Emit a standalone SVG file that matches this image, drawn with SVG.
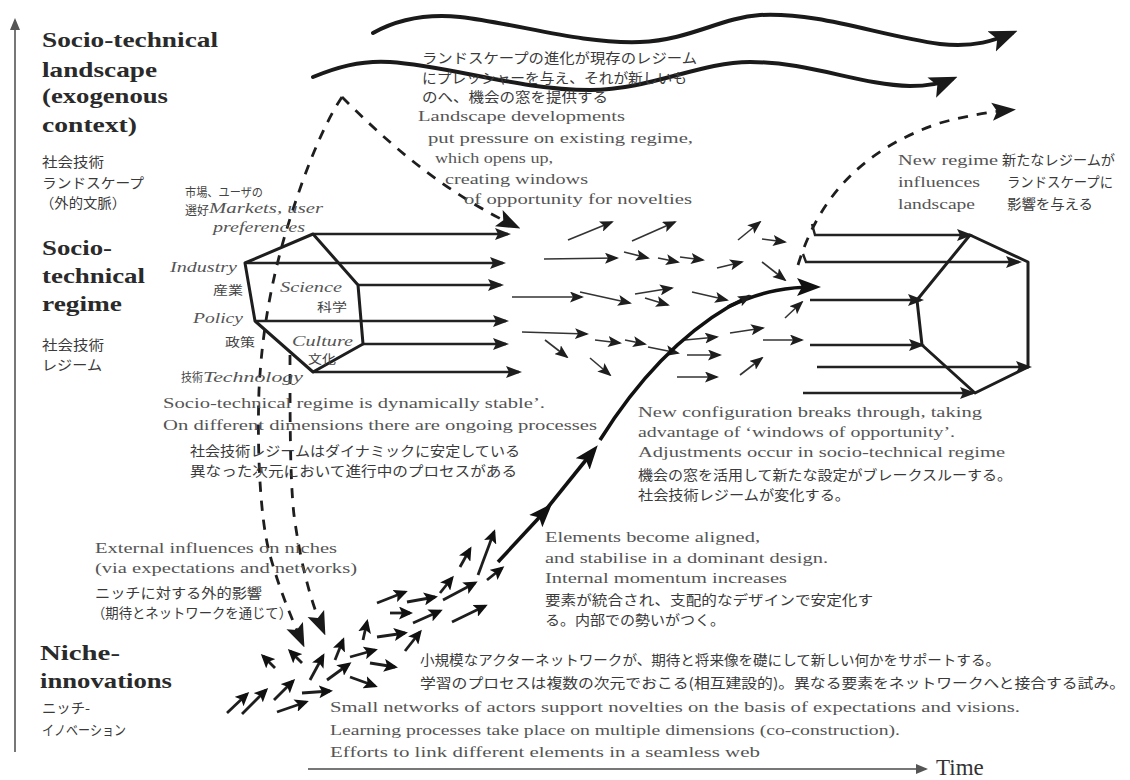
<svg xmlns="http://www.w3.org/2000/svg" width="1130" height="780" viewBox="0 0 1130 780">
<defs>
<style>
.t{font-family:"Liberation Serif","Times New Roman",serif;font-weight:bold;font-size:21px;fill:#2a2a2a}
.e{font-family:"Liberation Serif","Times New Roman",serif;font-size:15px;fill:#555}
.i{font-family:"Liberation Serif","Times New Roman",serif;font-style:italic;font-size:15px;fill:#555}
.j{font-family:"Noto Sans CJK JP","Noto Sans",sans-serif;font-size:14px;fill:#3a3a3a}
.js{font-family:"Noto Sans CJK JP","Noto Sans",sans-serif;font-size:12px;fill:#444}
.wv{fill:none;stroke:#1a1a1a;stroke-width:4;stroke-linecap:round}
.ds{fill:none;stroke:#1e1e1e;stroke-width:2.8;stroke-dasharray:10 9}
.ln{fill:none;stroke:#222;stroke-width:2.4}
.th{fill:none;stroke:#333;stroke-width:1.6}
.nk{fill:none;stroke:#1e1e1e;stroke-width:2.8}
.mn{fill:none;stroke:#111;stroke-width:3.6}
.hx{fill:none;stroke:#1e1e1e;stroke-width:3;stroke-linejoin:round}
.ax{fill:none;stroke:#777;stroke-width:2}
</style>
<marker id="big" markerUnits="userSpaceOnUse" markerWidth="28" markerHeight="24" viewBox="0 0 28 24" refX="22" refY="12" orient="auto"><path d="M0,1 L28,12 L0,23 L6,12 z" fill="#1a1a1a"/></marker>
<marker id="bigd" markerUnits="userSpaceOnUse" markerWidth="24" markerHeight="20" viewBox="0 0 24 20" refX="18" refY="10" orient="auto"><path d="M0,1 L24,10 L0,19 L5,10 z" fill="#1a1a1a"/></marker>
<marker id="med" markerUnits="userSpaceOnUse" markerWidth="16" markerHeight="12" viewBox="0 0 16 12" refX="13" refY="6" orient="auto"><path d="M0,0 L16,6 L0,12 L3,6 z" fill="#1e1e1e"/></marker>
<marker id="sm" markerUnits="userSpaceOnUse" markerWidth="14" markerHeight="11" viewBox="0 0 14 11" refX="12" refY="5.5" orient="auto"><path d="M0,0 L14,5.5 L0,11 L3,5.5 z" fill="#1e1e1e"/></marker>
<marker id="nk" markerUnits="userSpaceOnUse" markerWidth="14" markerHeight="13" viewBox="0 0 14 13" refX="11" refY="6.5" orient="auto"><path d="M0,0 L14,6.5 L0,13 L3,6.5 z" fill="#111"/></marker>
<marker id="mn" markerUnits="userSpaceOnUse" markerWidth="24" markerHeight="20" viewBox="0 0 24 20" refX="18" refY="10" orient="auto"><path d="M0,1 L24,10 L0,19 L5,10 z" fill="#111"/></marker>
<marker id="axh" markerUnits="userSpaceOnUse" markerWidth="12" markerHeight="10" viewBox="0 0 12 10" refX="10" refY="5" orient="auto"><path d="M0,0 L12,5 L0,10 z" fill="#555"/></marker>
</defs>
<rect width="1130" height="780" fill="#fff"/>

<g id="axis-vertical"><path class="ax" d="M15 752 L15 20" marker-end="url(#axh)"/></g>
<g id="axis-time">
<path class="ax" d="M308 769 L926 769" marker-end="url(#axh)"/>
<text x="936" y="775" style="font-family:'Liberation Serif',serif;font-size:23px;fill:#333">Time</text>
</g>

<g id="level-landscape">
<text class="t" x="42" y="47" textLength="176" lengthAdjust="spacingAndGlyphs">Socio-technical</text>
<text class="t" x="42" y="77" textLength="115" lengthAdjust="spacingAndGlyphs">landscape</text>
<text class="t" x="42" y="103" textLength="126" lengthAdjust="spacingAndGlyphs">(exogenous</text>
<text class="t" x="42" y="132" textLength="95" lengthAdjust="spacingAndGlyphs">context)</text>
<text class="j" x="42" y="167" textLength="62" lengthAdjust="spacingAndGlyphs">社会技術</text>
<text class="j" x="42" y="188" textLength="102" lengthAdjust="spacingAndGlyphs">ランドスケープ</text>
<text class="j" x="40" y="208" textLength="86" lengthAdjust="spacingAndGlyphs">（外的文脈）</text>
</g>
<g id="level-regime">
<text class="t" x="42" y="255" textLength="70" lengthAdjust="spacingAndGlyphs">Socio-</text>
<text class="t" x="42" y="283" textLength="103" lengthAdjust="spacingAndGlyphs">technical</text>
<text class="t" x="42" y="311" textLength="80" lengthAdjust="spacingAndGlyphs">regime</text>
<text class="j" x="42" y="350" textLength="62" lengthAdjust="spacingAndGlyphs">社会技術</text>
<text class="j" x="42" y="370" textLength="60" lengthAdjust="spacingAndGlyphs">レジーム</text>
</g>
<g id="level-niche">
<text class="t" x="40" y="660" textLength="80" lengthAdjust="spacingAndGlyphs">Niche-</text>
<text class="t" x="40" y="688" textLength="132" lengthAdjust="spacingAndGlyphs">innovations</text>
<text class="j" x="42" y="713" textLength="48" lengthAdjust="spacingAndGlyphs">ニッチ-</text>
<text class="j" x="42" y="735" textLength="84" lengthAdjust="spacingAndGlyphs">イノベーション</text>
</g>

<g id="connectors">
<!-- landscape waves -->
<path class="wv" d="M373 33 C400 18 430 14 460 17 C520 24 580 44 640 42 C690 40 720 18 760 15 C820 12 880 36 940 44 C975 48 995 40 1012 33" marker-end="url(#big)"/>
<path class="wv" d="M313 77 C335 68 360 60 390 62 C450 66 520 90 590 90 C650 90 700 62 750 62 C810 62 860 85 910 86 C930 86 945 82 952 79" marker-end="url(#big)"/>
<!-- landscape influences (dashed) -->
<path class="ds" d="M342 97 C385 140 440 190 515 226" marker-end="url(#bigd)"/>
<path class="ds" d="M342 97 C320 130 300 185 285 235 C272 280 262 330 259 390 C257 450 260 520 270 555 C278 585 290 615 302 642" marker-end="url(#bigd)"/>
<path class="ds" d="M290 355 C290 420 290 480 294 515 C300 560 310 600 323 630" marker-end="url(#bigd)"/>
<path class="ds" d="M798 265 C818 200 860 150 940 123 C965 116 990 112 1010 110" marker-end="url(#bigd)"/>

<!-- old regime lines -->
<path class="ln" d="M313 234 L508 234" marker-end="url(#med)"/>
<path class="ln" d="M245 263 L503 263" marker-end="url(#med)"/>
<path class="ln" d="M358 285 L501 285" marker-end="url(#med)"/>
<path class="ln" d="M255 321 L506 321" marker-end="url(#med)"/>
<path class="ln" d="M363 344 L506 344" marker-end="url(#med)"/>
<path class="ln" d="M313 372 L519 372" marker-end="url(#med)"/>

<!-- scattered regime arrows -->
<path class="th" d="M568 240 L612 222" marker-end="url(#sm)"/>
<path class="th" d="M632 241 L675 222" marker-end="url(#sm)"/>
<path class="th" d="M738 240 L760 222" marker-end="url(#sm)"/>
<path class="th" d="M762 239 L785 242" marker-end="url(#sm)"/>
<path class="th" d="M544 259 L617 258" marker-end="url(#sm)"/>
<path class="th" d="M624 252 L648 258" marker-end="url(#sm)"/>
<path class="th" d="M658 258 L678 262" marker-end="url(#sm)"/>
<path class="th" d="M680 257 L703 260" marker-end="url(#sm)"/>
<path class="th" d="M717 268 L742 262" marker-end="url(#sm)"/>
<path class="th" d="M762 262 L785 280" marker-end="url(#sm)"/>
<path class="th" d="M512 297 L582 297" marker-end="url(#sm)"/>
<path class="th" d="M580 292 L630 303" marker-end="url(#sm)"/>
<path class="th" d="M635 294 L672 288" marker-end="url(#sm)"/>
<path class="th" d="M645 298 L668 305" marker-end="url(#sm)"/>
<path class="th" d="M692 292 L727 300" marker-end="url(#sm)"/>
<path class="th" d="M785 318 L802 302" marker-end="url(#sm)"/>
<path class="th" d="M522 332 L587 334" marker-end="url(#sm)"/>
<path class="th" d="M545 340 L567 357" marker-end="url(#sm)"/>
<path class="th" d="M595 340 L620 343" marker-end="url(#sm)"/>
<path class="th" d="M625 340 L645 344" marker-end="url(#sm)"/>
<path class="th" d="M648 347 L678 353" marker-end="url(#sm)"/>
<path class="th" d="M685 340 L717 337" marker-end="url(#sm)"/>
<path class="th" d="M687 355 L720 355" marker-end="url(#sm)"/>
<path class="th" d="M677 377 L717 377" marker-end="url(#sm)"/>
<path class="th" d="M730 333 L763 328" marker-end="url(#sm)"/>
<path class="th" d="M740 375 L762 358" marker-end="url(#sm)"/>
<path class="th" d="M763 340 L802 340" marker-end="url(#sm)"/>
<path class="th" d="M590 358 L610 375" marker-end="url(#sm)"/>

<!-- new regime lines -->
<path class="ln" d="M812 224 L815 235 L970 235" marker-end="url(#med)"/>
<path class="ln" d="M803 254 L806 262 L1019 262" marker-end="url(#med)"/>
<path class="ln" d="M810 300 L921 300" marker-end="url(#med)"/>
<path class="ln" d="M810 345 L922 345" marker-end="url(#med)"/>
<path class="ln" d="M817 367 L1029 367" marker-end="url(#med)"/>
<path class="ln" d="M803 393 L973 393" marker-end="url(#med)"/>

<!-- niche arrows -->
<path class="nk" d="M227 713 L247 694" marker-end="url(#nk)"/>
<path class="nk" d="M242 714 L266 690" marker-end="url(#nk)"/>
<path class="nk" d="M274 700 L293 681" marker-end="url(#nk)"/>
<path class="nk" d="M277 712 L306 702" marker-end="url(#nk)"/>
<path class="nk" d="M302 693 L330 691" marker-end="url(#nk)"/>
<path class="nk" d="M275 668 L263 656" marker-end="url(#nk)"/>
<path class="nk" d="M302 663 L290 651" marker-end="url(#nk)"/>
<path class="nk" d="M310 680 L323 656" marker-end="url(#nk)"/>
<path class="nk" d="M327 680 L349 664" marker-end="url(#nk)"/>
<path class="nk" d="M335 660 L343 640" marker-end="url(#nk)"/>
<path class="nk" d="M350 657 L375 650" marker-end="url(#nk)"/>
<path class="nk" d="M350 677 L375 686" marker-end="url(#nk)"/>
<path class="nk" d="M363 640 L367 622" marker-end="url(#nk)"/>
<path class="nk" d="M370 663 L395 667" marker-end="url(#nk)"/>
<path class="nk" d="M377 637 L405 633" marker-end="url(#nk)"/>
<path class="nk" d="M405 651 L420 632" marker-end="url(#nk)"/>
<path class="nk" d="M377 603 L405 592" marker-end="url(#nk)"/>
<path class="nk" d="M390 613 L410 613" marker-end="url(#nk)"/>
<path class="nk" d="M407 602 L435 597" marker-end="url(#nk)"/>
<path class="nk" d="M413 623 L440 611" marker-end="url(#nk)"/>
<path class="nk" d="M440 593 L452 578" marker-end="url(#nk)"/>
<path class="nk" d="M443 600 L475 583" marker-end="url(#nk)"/>
<path class="nk" d="M452 622 L485 606" marker-end="url(#nk)"/>
<path class="nk" d="M460 567 L470 549" marker-end="url(#nk)"/>
<path class="nk" d="M478 575 L494 532" marker-end="url(#nk)"/>
<path class="nk" d="M487 580 L502 568" marker-end="url(#nk)"/>

<!-- main breakthrough trajectory -->
<path class="mn" d="M498 562 L548 508" marker-end="url(#mn)"/>
<path class="mn" d="M540 517 L594 450" marker-end="url(#mn)"/>
<path class="mn" d="M600 440 C630 392 672 340 730 306 C765 290 790 287 815 287" marker-end="url(#mn)"/>
<path class="mn" d="M728 307 L750 296" marker-end="url(#sm)"/>
</g>

<g id="old-regime">
<polygon class="hx" points="313,234 358,285 363,344 313,372 255,321 245,263"/>
<text class="i" x="170" y="272" textLength="67" lengthAdjust="spacingAndGlyphs">Industry</text>
<text class="js" x="213" y="295" textLength="30" lengthAdjust="spacingAndGlyphs">産業</text>
<text class="i" x="280" y="292" textLength="62" lengthAdjust="spacingAndGlyphs">Science</text>
<text class="js" x="317" y="312" textLength="30" lengthAdjust="spacingAndGlyphs">科学</text>
<text class="i" x="193" y="323" textLength="50" lengthAdjust="spacingAndGlyphs">Policy</text>
<text class="js" x="225" y="347" textLength="30" lengthAdjust="spacingAndGlyphs">政策</text>
<text class="i" x="292" y="346" textLength="61" lengthAdjust="spacingAndGlyphs">Culture</text>
<text class="js" x="308" y="364" textLength="28" lengthAdjust="spacingAndGlyphs">文化</text>
<text class="js" x="181" y="382" textLength="22" lengthAdjust="spacingAndGlyphs">技術</text>
<text class="i" x="203" y="382" textLength="100" lengthAdjust="spacingAndGlyphs">Technology</text>
<text class="js" x="185" y="197" textLength="78" lengthAdjust="spacingAndGlyphs">市場、ユーザの</text>
<text class="js" x="185" y="215" textLength="24" lengthAdjust="spacingAndGlyphs">選好</text>
<text class="i" x="209" y="213" textLength="114" lengthAdjust="spacingAndGlyphs">Markets, user</text>
<text class="i" x="213" y="232" textLength="92" lengthAdjust="spacingAndGlyphs">preferences</text>
</g>

<g id="new-regime">
<polygon class="hx" points="970,235 1028,262 1028,367 975,393 922,345 917,300"/>
</g>

<g id="landscape-text">
<text class="j" x="422" y="63" textLength="275" lengthAdjust="spacingAndGlyphs">ランドスケープの進化が現存のレジーム</text>
<text class="j" x="422" y="83" textLength="265" lengthAdjust="spacingAndGlyphs">にプレッシャーを与え、それが新しいも</text>
<text class="j" x="422" y="102" textLength="186" lengthAdjust="spacingAndGlyphs">のへ、機会の窓を提供する</text>
<text class="e" x="418" y="121" textLength="207" lengthAdjust="spacingAndGlyphs">Landscape developments</text>
<text class="e" x="428" y="143" textLength="265" lengthAdjust="spacingAndGlyphs">put pressure on existing regime,</text>
<text class="e" x="435" y="163" textLength="118" lengthAdjust="spacingAndGlyphs">which opens up,</text>
<text class="e" x="445" y="184" textLength="143" lengthAdjust="spacingAndGlyphs">creating windows</text>
<text class="e" x="464" y="204" textLength="228" lengthAdjust="spacingAndGlyphs">of opportunity for novelties</text>
</g>

<g id="new-regime-text">
<text class="e" x="898" y="165" textLength="100" lengthAdjust="spacingAndGlyphs">New regime</text>
<text class="e" x="898" y="187" textLength="82" lengthAdjust="spacingAndGlyphs">influences</text>
<text class="e" x="898" y="209" textLength="77" lengthAdjust="spacingAndGlyphs">landscape</text>
<text class="j" x="1002" y="165" textLength="113" lengthAdjust="spacingAndGlyphs">新たなレジームが</text>
<text class="j" x="1007" y="187" textLength="106" lengthAdjust="spacingAndGlyphs">ランドスケープに</text>
<text class="j" x="1007" y="209" textLength="86" lengthAdjust="spacingAndGlyphs">影響を与える</text>
</g>

<g id="regime-text">
<text class="e" x="163" y="408" textLength="382" lengthAdjust="spacingAndGlyphs">Socio-technical regime is dynamically stable’.</text>
<text class="e" x="163" y="430" textLength="434" lengthAdjust="spacingAndGlyphs">On different dimensions there are ongoing processes</text>
<text class="j" x="190" y="456" textLength="330" lengthAdjust="spacingAndGlyphs">社会技術レジームはダイナミックに安定している</text>
<text class="j" x="190" y="476" textLength="327" lengthAdjust="spacingAndGlyphs">異なった次元において進行中のプロセスがある</text>
</g>

<g id="external-text">
<text class="e" x="95" y="553" textLength="242" lengthAdjust="spacingAndGlyphs">External influences on niches</text>
<text class="e" x="95" y="573" textLength="262" lengthAdjust="spacingAndGlyphs">(via expectations and networks)</text>
<text class="j" x="95" y="598" textLength="167" lengthAdjust="spacingAndGlyphs">ニッチに対する外的影響</text>
<text class="j" x="92" y="618" textLength="200" lengthAdjust="spacingAndGlyphs">（期待とネットワークを通じて）</text>
</g>

<g id="breakthrough-text">
<text class="e" x="638" y="417" textLength="344" lengthAdjust="spacingAndGlyphs">New configuration breaks through, taking</text>
<text class="e" x="638" y="437" textLength="317" lengthAdjust="spacingAndGlyphs">advantage of ‘windows of opportunity’.</text>
<text class="e" x="638" y="457" textLength="367" lengthAdjust="spacingAndGlyphs">Adjustments occur in socio-technical regime</text>
<text class="j" x="638" y="480" textLength="374" lengthAdjust="spacingAndGlyphs">機会の窓を活用して新たな設定がブレークスルーする。</text>
<text class="j" x="638" y="500" textLength="212" lengthAdjust="spacingAndGlyphs">社会技術レジームが変化する。</text>
</g>

<g id="elements-text">
<text class="e" x="545" y="542" textLength="215" lengthAdjust="spacingAndGlyphs">Elements become aligned,</text>
<text class="e" x="545" y="563" textLength="283" lengthAdjust="spacingAndGlyphs">and stabilise in a dominant design.</text>
<text class="e" x="545" y="583" textLength="242" lengthAdjust="spacingAndGlyphs">Internal momentum increases</text>
<text class="j" x="545" y="605" textLength="328" lengthAdjust="spacingAndGlyphs">要素が統合され、支配的なデザインで安定化す</text>
<text class="j" x="545" y="625" textLength="180" lengthAdjust="spacingAndGlyphs">る。内部での勢いがつく。</text>
</g>

<g id="niche-text">
<text class="j" x="420" y="665" textLength="580" lengthAdjust="spacingAndGlyphs">小規模なアクターネットワークが、期待と将来像を礎にして新しい何かをサポートする。</text>
<text class="j" x="420" y="688" textLength="705" lengthAdjust="spacingAndGlyphs">学習のプロセスは複数の次元でおこる(相互建設的)。異なる要素をネットワークへと接合する試み。</text>
<text class="e" x="330" y="712" textLength="690" lengthAdjust="spacingAndGlyphs">Small networks of actors support novelties on the basis of expectations and visions.</text>
<text class="e" x="330" y="735" textLength="570" lengthAdjust="spacingAndGlyphs">Learning processes take place on multiple dimensions (co-construction).</text>
<text class="e" x="330" y="757" textLength="430" lengthAdjust="spacingAndGlyphs">Efforts to link different elements in a seamless web</text>
</g>
</svg>
